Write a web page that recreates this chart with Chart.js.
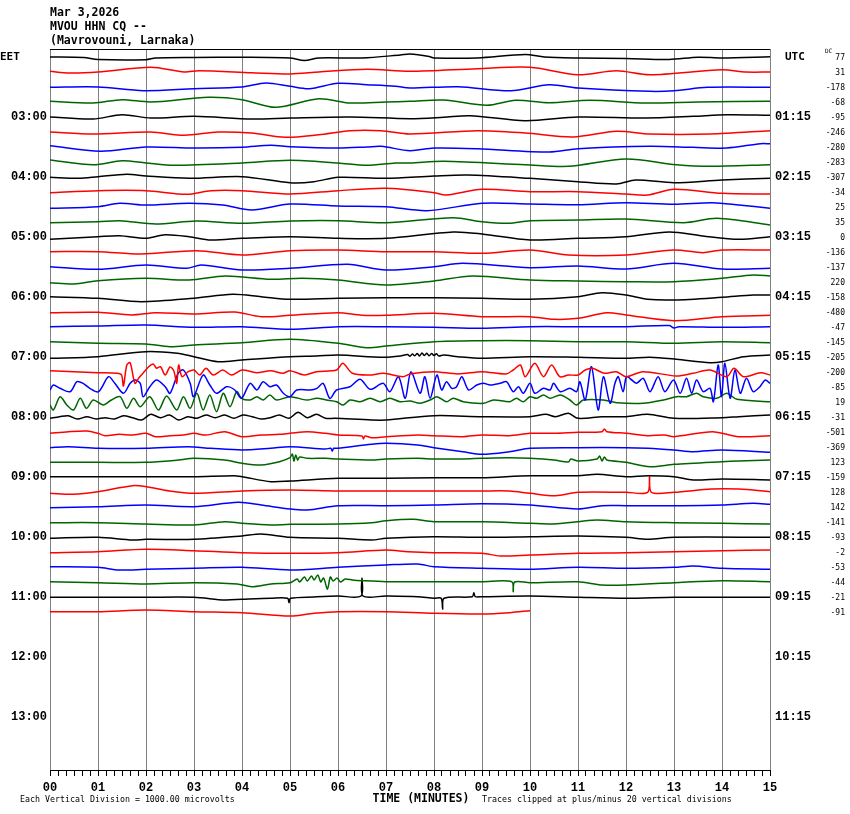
<!DOCTYPE html>
<html>
<head>
<meta charset="utf-8">
<title>MVOU HHN CQ -- helicorder</title>
<script src="https://cdn.jsdelivr.net/npm/chart.js@4"></script>
<style>
  body { margin: 0; background: #fff; }
</style>
</head>
<body>
<canvas id="heli" width="850" height="814"></canvas>
<script>
// row labels, every 4th trace line (one line = 15 minutes)
const eetLabels = ["03:00", "04:00", "05:00", "06:00", "07:00", "08:00", "09:00", "10:00", "11:00", "12:00", "13:00"];
const utcLabels = ["01:15", "02:15", "03:15", "04:15", "05:15", "06:15", "07:15", "08:15", "09:15", "10:15", "11:15"];
const minuteLabels = ["00", "01", "02", "03", "04", "05", "06", "07", "08", "09", "10", "11", "12", "13", "14", "15"];

// DC offset printed at the right of each line
const dcOffsets = [77, 31, -178, -68, -95, -246, -280, -283, -307, -34, 25, 35, 0, -136, -137, 220,
  -158, -480, -47, -145, -205, -200, -85, 19, -31, -501, -369, 123, -159, 128, 142, -141,
  -93, -2, -53, -44, -21, -91];

const traceColors = ["#000000", "#ff0000", "#0000ff", "#006400"];

// each line: [minute, deflection] pairs, deflection in screen pixels (up = +)
const r0200 = [[0,0],[0.7,-0.5],[1,-2.5],[2,-2.7],[2.2,-1],[3,-0.5],[4,-0.3],[5,-1],[5.3,-3.5],[5.6,-1],[6.5,-1],[7.3,2],[7.5,3],[7.9,0.5],[8,-1],[8.9,-1],[9.9,2.5],[10.3,0],[11,-1],[12,-1.5],[12.9,-2.5],[13.5,-0.2],[14,-1],[15,0.3]];
const r0215 = [[0,0.7],[0.4,-1],[1,0],[2.1,4.7],[2.8,0],[3.1,1.3],[4.2,-0.7],[5,-2],[5.6,0],[6.6,2.7],[7.5,0.7],[8.9,3.3],[10,4.7],[11,-2.7],[11.8,1.3],[12.5,-2.7],[14,2.3],[14.5,0],[15,0]];
const r0230 = [[0,-0.3],[1,0],[1.95,-3.7],[3,-1.7],[4,0],[4.5,4],[5,0.7],[5.4,-1.7],[6,3.7],[6.6,2.3],[7.2,0.7],[7.5,-1],[8.5,0.3],[9.6,-3.7],[10.4,2.3],[11,-1],[12.5,-4.3],[13,-3.7],[13.7,-0.3],[15,-0.3]];
const r0245 = [[0,0.7],[0.9,-1],[1.5,2.3],[2.1,0],[3.3,4.7],[4,2.3],[4.7,-5.3],[5.6,3.3],[6.25,-1],[7,0],[7.5,0.7],[8.2,2],[9.1,-3.3],[9.7,1.7],[10.4,-0.7],[11.25,1.7],[12.4,-1],[13.5,0],[15,0.7]];
const r0300 = [[0,0],[0.9,-2],[1.5,2.3],[2.1,-1],[3,0.7],[4.2,-2],[5,-1],[6.25,0],[7.5,-1.7],[8.2,-0.3],[8.75,1.3],[9.9,-3.7],[11,0],[12.4,-1],[13.4,0.7],[14.1,2.3],[15,1.7]];
const r0315 = [[0,0],[0.9,-2],[2.1,0],[2.8,-3.3],[3.5,0],[4.2,-1],[4.9,-5.3],[5.6,-2.7],[6.25,1.3],[6.9,1.3],[7.5,-2],[8.9,1.3],[9.9,-1],[10.9,-5],[11.8,0.7],[12.5,-2],[13.75,-2],[15,1.3]];
const r0330 = [[0,1.3],[1.05,-4.3],[2,0],[3,-1],[4,-0.3],[4.6,1.7],[5,0.3],[6,-1],[6.6,0],[6.9,0.7],[7.5,-3.7],[8,-1],[8.9,-1.7],[10.4,-5],[11,-1.7],[12.5,0.7],[13.4,-0.3],[14.1,-1],[14.8,3.3],[15,3.3]];
const r0345 = [[0,2],[0.9,-2.7],[1.5,1.3],[2,-1],[2.6,-3.3],[4,-1],[5,1.7],[6,-1],[6.6,-3.3],[7.2,-1],[7.5,-1],[8.2,0.7],[9.9,-2.7],[10.8,-4.3],[12,3],[13.05,-2.7],[13.75,-4.3],[15,-2.7]];
const r0400 = [[0,-0.3],[0.6,-1.3],[1,0.3],[1.6,2.7],[2,1],[2.9,-1.3],[4,0.3],[5,-5.7],[5.5,-4.7],[6,-0.3],[7,-1.3],[8,1],[8.7,2],[10,-1.3],[11,-4.7],[11.8,-7],[12.2,-3],[13,-5.7],[14,-3],[15,-1.3]];
const r0415 = [[0,-0.7],[1,1.3],[2,1.3],[2.85,-2.3],[3.35,1.3],[4,1.3],[5,-2],[6,1.3],[7,3.7],[8,-0.7],[8.25,-3],[9,2.7],[10,0.3],[11,0.3],[12,-2],[12.45,-3],[13,2.7],[14,-1.3],[15,-2]];
const r0430 = [[0,-1.3],[1,0.3],[1.45,3.7],[2,2],[2.9,3.7],[3.6,2],[4.2,-3],[5,3],[6,1],[7,0.3],[7.85,-3.7],[9,3.7],[10,3],[11,2.3],[12,4.3],[13,2.7],[13.8,4.3],[14.35,2],[15,-1.3]];
const r0445 = [[0,-0.7],[1,0.3],[1.45,1.3],[2.2,-2],[3.05,1],[4,-1.3],[5,1],[6,1.3],[7,-0.7],[8.4,4.3],[9,0.3],[9.55,-1.3],[10,1.3],[11,2],[12,3],[13.2,-0.7],[13.9,3.7],[15,-3]];
const r0500 = [[0,-2.3],[1,0.3],[1.45,1.3],[2,-1.3],[2.4,2.3],[2.9,0.3],[3.35,-3],[4,-1.3],[5,0.3],[6,-1.3],[7,-1.3],[8.4,5],[9,3],[10,-3],[11,-1.3],[12,0.3],[12.9,5],[13.6,1],[14.35,-2.3],[15,0.3]];
const r0515 = [[0,0.3],[1,0.3],[1.9,-2],[3.05,1.3],[4,-3],[5,1.3],[6,2],[7,0.3],[8,0.3],[9,-1.3],[10,2],[10.8,-3],[12,-3],[13,2],[13.6,-0.7],[14,2],[15,2]];
const r0530 = [[0,0.3],[1,-2.3],[2,2],[2.85,-1.3],[3.15,2],[4,-3],[5,-1.3],[6.2,2.7],[7,-3],[8,0.3],[8.6,3.7],[10,-0.7],[11,1],[12,-2],[13,3.7],[14,-2],[15,-1.3]];
const r0545 = [[0,-0.7],[0.5,-2],[1,1.3],[2,3.7],[2.9,2],[3.65,6],[4.6,2.7],[5.25,3.7],[6,2],[7,-3],[8,1],[8.8,6],[10,2],[11,1],[12,0.3],[13,0.3],[14,3.7],[14.65,7],[15,6]];
const r0600 = [[0,0.3],[1,-1.3],[1.9,-4.7],[3,-1.3],[3.8,2.7],[4.4,0.3],[5,-2.3],[6,-1.3],[7,-0.7],[8,-0.7],[9,-1.3],[10,-2.3],[11,0.3],[11.5,4.3],[12,2],[12.45,-2.3],[13,-3],[14,-0.3],[14.65,2],[15,2]];
const r0615 = [[0,-0.7],[1,-0.3],[1.7,-3],[2.2,-0.7],[3,-2],[3.85,0],[4.4,-4.7],[5,-3.3],[6,-0.7],[6.5,-3.3],[7,-3.3],[8,-1.3],[9,-4.7],[10,-4.7],[10.5,-7.3],[11,-6.3],[11.6,-0.7],[12,-3],[13,-8.7],[14,-4.7],[15,-3.3]];
const r0630 = [[0,0.3],[1,1],[2,2],[3,-0.3],[4,0.3],[5,-2.3],[6,0.3],[7,0.3],[8,-0.3],[9,-1.3],[10,0.3],[11,0.3],[12,0.3],[12.9,1.5],[13,-1],[13.1,0.3],[14,-0.3],[15,0.3]];
const r0645 = [[0,0.3],[1,-1.3],[2,-2],[2.5,-4.7],[3,-3],[4,-0.7],[5,2.7],[6,-1.3],[6.6,-5.7],[7,-4],[8,0.3],[9,1.3],[10,1.3],[11,0.3],[12,0.3],[13,-1.3],[14,0.3],[15,-0.7]];
const r0700 = [[0,-1.3],[1,0.3],[2,5.3],[2.65,3.7],[3,0.3],[3.5,-4.7],[4,-3],[5,0.3],[5.55,1],[6,2],[6.95,-0.3],[7.3,1],[7.45,2.5],[7.5,0.8],[7.55,3],[7.6,1.2],[7.65,3.5],[7.7,1],[7.75,4],[7.8,1.5],[7.85,3.7],[7.9,1.2],[7.95,3.5],[8,1.5],[8.05,3.2],[8.1,1],[8.2,2],[8.5,0.3],[9,-1.3],[10,0.3],[11,-0.3],[12,-1.3],[12.5,-0.3],[13.05,-2.3],[13.75,-5.7],[14,-4.7],[14.45,0.3],[15,2]];
const r0715 = [[0,1.3],[1,-0.7],[1.4,-1.3],[1.49,-3],[1.53,-14],[1.6,7],[1.67,9.3],[1.77,-11.3],[1.85,-6],[1.95,-0.5],[2.05,5],[2.15,8],[2.22,3.7],[2.3,5.3],[2.4,-3],[2.5,5],[2.58,1],[2.64,-11.3],[2.68,7],[2.75,-4.7],[2.88,0.3],[3,2],[3.12,-3],[3.25,3.7],[3.4,-3],[3.6,2],[3.78,-3],[4,2],[4.3,-0.7],[4.6,1.3],[4.85,-1.3],[5,1.3],[5.3,-3],[5.55,0.3],[5.97,2],[6.1,8.7],[6.3,-1.3],[6.65,-3],[6.95,-1.3],[7.35,-4.7],[7.5,-2],[8,0.3],[8.5,-2],[9,0.3],[9.5,-2],[9.65,2],[9.8,7],[9.9,-4.7],[10.1,8.7],[10.28,-4.7],[10.45,7],[10.62,-4.7],[10.8,-3],[11,-3],[11.15,2],[11.3,3.7],[11.55,-1.3],[11.8,0.3],[12,-4.7],[12.35,0.3],[13.05,-4],[13.4,-1.3],[13.75,2],[14.1,-4.7],[14.25,3.7],[14.45,-4.7],[14.8,-0.7],[15,-3]];
const r0730 = [[0,-3],[0.07,2],[0.21,-1.3],[0.42,-4.7],[0.56,5.3],[0.69,3.7],[0.83,-1.3],[1.01,-4.7],[1.22,10.3],[1.35,3.7],[1.53,-6.3],[1.67,3.7],[1.77,7],[1.88,3.7],[1.94,-9.7],[2.08,0.3],[2.22,7],[2.4,0.3],[2.5,-6.3],[2.67,13.7],[2.78,17],[2.92,3.7],[2.99,-9.7],[3.19,12],[3.33,2],[3.47,-6.3],[3.68,0.3],[3.85,-3],[3.99,-11.3],[4.17,3.7],[4.31,-3],[4.44,5.3],[4.58,0.3],[4.72,2],[4.86,-6.3],[5,-9.7],[5.14,-3],[5.42,-3],[5.56,-1.3],[5.69,3.7],[5.83,-11.3],[5.97,-3],[6.25,0.3],[6.46,7.7],[6.67,-2.3],[6.94,3.7],[7.08,-4.7],[7.26,10.3],[7.4,-11.3],[7.52,15.3],[7.71,-6.3],[7.81,10.3],[7.92,-11.3],[8.06,12],[8.16,-3],[8.26,5.3],[8.37,-1.3],[8.47,0.3],[8.58,10.3],[8.72,-3],[8.89,2],[9.03,3.7],[9.17,2],[9.38,3.7],[9.51,5.3],[9.65,-4.7],[9.76,0.3],[9.86,-6.3],[10,3.7],[10.1,-6.3],[10.28,-1.3],[10.42,-3],[10.49,3.7],[10.63,-4.7],[10.83,-1.3],[10.97,-4.7],[11.04,5.3],[11.15,-13],[11.28,20.3],[11.42,-23],[11.53,10.3],[11.67,-16.3],[11.77,3.7],[11.84,10.3],[11.94,-4.7],[12.01,10.3],[12.12,7],[12.22,3.7],[12.36,8.7],[12.5,-4.7],[12.67,10.3],[12.81,-4.7],[12.99,7],[13.13,-6.3],[13.26,8.7],[13.37,-6.3],[13.47,7],[13.61,-4.7],[13.75,-1.3],[13.82,-14.7],[13.92,22],[13.99,-9.7],[14.06,23.7],[14.17,-11.3],[14.27,17],[14.38,-6.3],[14.51,8.7],[14.65,-4.7],[14.79,0.3],[14.9,7],[15,3.7]];
const r0745 = [[0,-3],[0.07,-8],[0.21,5.3],[0.35,-3],[0.49,-8],[0.63,3.7],[0.76,-6.3],[0.9,2],[1.11,-3],[1.28,2],[1.46,5.3],[1.6,-6.3],[1.74,3.7],[1.88,-4.7],[2.08,5.3],[2.26,-8],[2.43,6],[2.64,-8],[2.78,5.3],[2.92,-6.3],[3.06,8.7],[3.19,-8],[3.33,7],[3.47,-9.7],[3.61,8.7],[3.75,-4.7],[3.89,10.3],[3.99,3.7],[4.17,2],[4.31,5.3],[4.44,2],[4.58,7],[4.72,2],[5,5.3],[5.35,2],[5.56,3.7],[5.76,2],[5.97,0.3],[6.11,-3],[6.25,2],[6.46,0.3],[6.67,3.7],[6.88,0.3],[7.08,3.7],[7.29,0.3],[7.5,1],[7.71,-1.3],[7.92,2],[8.06,5.3],[8.26,0.3],[8.4,3.7],[8.61,0.3],[9.03,-1.3],[9.24,2],[9.58,0.3],[9.72,3.7],[9.86,0.3],[10,5.3],[10.14,3.7],[10.28,7],[10.42,3.7],[10.63,7],[10.83,2],[10.97,-3],[11.11,2],[11.53,2],[11.81,-0.7],[12.36,-1.3],[12.78,2],[13.06,5.3],[13.26,5.3],[13.47,8.7],[13.61,5.3],[13.89,3.7],[14.1,8.7],[14.31,2.7],[15,0.3]];
const r0800 = [[0,-1.3],[0.2,0.3],[0.38,1.3],[0.57,-2],[0.77,0.3],[0.96,-2],[1.15,-0.7],[1.34,-2],[1.53,1.3],[1.72,-0.7],[1.91,-3],[2.1,2.7],[2.3,-0.7],[2.49,2],[2.68,-3],[2.87,0.3],[3.06,-1.3],[3.25,2],[3.44,-0.7],[3.64,2],[3.83,-1.3],[4.02,2],[4.21,0.3],[4.4,-2],[4.59,-0.7],[4.78,2],[4.98,-1.3],[5.17,4.7],[5.36,-0.7],[5.55,2.7],[5.74,-1.3],[5.93,-1.3],[6.7,-3],[7,-3],[8,1.3],[9,0.3],[10,0.3],[10.33,2.7],[10.53,0.3],[10.8,3.7],[11,-1.3],[11.5,0.3],[12,0.3],[12.45,2.7],[13,-1.3],[14,-0.7],[14.35,0.3],[15,2]];
const r0815 = [[0,-1.3],[0.38,0.3],[0.77,1],[1,-1.3],[1.15,-3.7],[1.44,-2.3],[1.72,-3],[2,-1.3],[2.2,-4.7],[2.5,-3.7],[2.78,-3],[3,-1.3],[3.25,-3],[3.64,0.3],[4,-4.7],[4.4,-3],[4.78,-2.3],[5,-1.3],[5.36,0.3],[5.74,-1.3],[6,-3],[6.5,-4],[6.53,-7],[6.56,-4],[6.7,-5.7],[7,-4.7],[7.66,-3],[8,-3.7],[8.6,-4.7],[9,-3],[9.57,-3.7],[10,-1.3],[10.5,-1.3],[11,-0.3],[11.5,0.3],[11.55,3],[11.6,0.3],[12,-1.3],[12.45,-3.7],[12.8,-3],[13,-4.7],[13.8,0.3],[14.35,-4.7],[15,-3.7]];
const r0830 = [[0,-0.7],[0.38,0.3],[1,-1.3],[2,-1.3],[2.87,0.3],[3.35,-1.3],[4,-3],[4.6,-1.3],[5,0.3],[5.74,-2],[5.85,-1.3],[5.88,-4],[5.91,-1.3],[6,-1.3],[6.7,2.7],[7,3.7],[7.66,2],[8,-0.7],[8.6,-4.7],[9,-7.3],[9.57,-4.7],[10,-1.3],[11,-0.7],[12,-0.7],[12.45,-1.3],[13,-3],[13.4,-4.7],[14,-3],[15,-5.3]];
const r0845 = [[0,-0.3],[1,-0.3],[2,-0.3],[2.68,2],[3,3.7],[3.64,2],[4,-1.3],[4.4,-3],[4.78,0.3],[5,4.3],[5.05,8],[5.08,1],[5.12,7],[5.16,2],[5.2,5],[5.36,3.7],[5.74,3.7],[6,3],[6.7,2],[7,3],[7.66,3.7],[8,3],[8.6,3],[9,3.7],[9.57,4.3],[10,3.7],[10.5,2],[10.8,0],[10.85,3],[11,1],[11.4,3],[11.45,6],[11.5,1],[11.55,5],[11.6,2],[12,-0.3],[12.5,-4.7],[13,-2.3],[14,0.3],[14.35,1],[15,2]];
const r0900 = [[0,0.3],[1,0.3],[2,0.3],[3,0.3],[3.83,1.3],[4,0.3],[4.6,-4.7],[5,-4],[6,-1.3],[7,-1.3],[8,-0.7],[9,-0.7],[10,1.3],[11,1.3],[11.4,2.7],[12,0.3],[12.45,1.3],[13,0.3],[13.4,-3],[14,-2],[15,-3]];
const r0915 = [[0,-1.3],[0.48,-2.3],[1,0.3],[1.72,6.3],[2,5.3],[2.49,1],[3,-1.3],[4,1],[5,2],[6,1],[7,1],[8,1],[9,1],[9.57,1],[10,-1.3],[10.53,-3.7],[11,-0.3],[12,-0.3],[12.45,-0.3],[12.49,15.3],[12.53,-0.3],[13,-0.3],[13.78,3],[14.35,3],[15,0.3]];
const r0930 = [[0,-0.7],[1,0.3],[2,2],[3,0.3],[3.92,4.7],[4.4,2],[5,-2],[5.36,-3],[6,1.3],[7,1.3],[8,2],[9,3.3],[10,2],[11,-2],[11.5,1.3],[12,1.3],[13,1.3],[14,2],[14.65,3.7],[15,2.7]];
const r0945 = [[0,-0.7],[1,-0.7],[2,-2],[3,-3],[3.64,0.3],[4,-1.3],[4.6,-3],[5,-2.3],[6,-2],[6.7,-0.7],[7,1.3],[7.56,2.7],[8,0.3],[9,0.3],[10,-1.3],[10.5,-2],[11,0.3],[11.4,2],[12,0.3],[13,-0.7],[14,-1.3],[15,-2]];
const r1000 = [[0,-1.3],[1,-0.3],[1.72,-3],[2,-2.3],[3,-2.3],[4,1],[4.4,3],[5,-0.3],[6,-1.3],[6.7,-3],[7,-1.3],[8,0.3],[9,-0.3],[10,0.3],[11,1],[12,-0.3],[12.45,-2.3],[13,-0.3],[15,-0.3]];
const r1015 = [[0,-0.7],[1,0.3],[2,2.7],[3,1.3],[4,-0.7],[5,-1.3],[6,-0.7],[7,2],[7.46,0.3],[8,-0.7],[9,-1.3],[9.38,-4],[10,-3],[11,-1.3],[12,-0.7],[13,0.3],[14,1.3],[15,2]];
const r1030 = [[0,0.3],[1,-0.3],[1.44,-3],[2,-2.3],[3,-1.3],[4,-0.3],[5,-3],[6,-0.3],[7,2],[7.66,3],[8,0.3],[9,-1.3],[10,-2.3],[11,-0.3],[12,-1.3],[13,-0.3],[13.4,1],[14,-1.3],[15,-2.3]];
const r1045 = [[0,0.3],[1,-0.7],[2,-2],[3,-0.7],[3.9,-2],[4.2,-4.7],[4.6,-2],[5,-0.7],[5.15,3],[5.2,0],[5.3,5],[5.36,1],[5.45,6],[5.5,2],[5.58,7],[5.64,0],[5.7,4],[5.78,-7.3],[5.84,5],[5.9,1],[5.98,4],[6.05,0],[6.15,3],[6.3,2],[6.5,1.3],[7,0.3],[8,0.3],[9,0.3],[9.62,0.3],[9.65,-9.7],[9.68,0],[10,-0.7],[11,0.3],[11.5,-3],[12,-3],[13,-0.7],[14,1.3],[15,0.3]];
const r1100 = [[0,-0.3],[1,-0.3],[2,-0.3],[3,-0.3],[3.64,-3],[4,-2.3],[4.6,-1.3],[4.95,-1.3],[4.98,-5.7],[5.01,-1.3],[5.5,0],[6,1],[6.48,1],[6.5,18.7],[6.52,1],[7,1],[7.66,0.3],[8,-1.3],[8.15,-1.3],[8.18,-12.3],[8.21,-1.3],[8.8,0.3],[8.83,4.3],[8.86,0.3],[9,0.3],[10,1],[11,-0.3],[12,-1.3],[13,-0.3],[14,-0.3],[15,-0.3]];
const r1115 = [[0,0.3],[1,0.3],[2,2],[3,0.3],[4,-0.7],[5,-4],[5.5,-1.3],[6,0.3],[7,0.3],[8,-1.3],[9,-2],[9.57,-0.7],[10,1.3]];

const rows = [r0200, r0215, r0230, r0245, r0300, r0315, r0330, r0345, r0400, r0415, r0430, r0445,
  r0500, r0515, r0530, r0545, r0600, r0615, r0630, r0645, r0700, r0715, r0730, r0745,
  r0800, r0815, r0830, r0845, r0900, r0915, r0930, r0945, r1000, r1015, r1030, r1045,
  r1100, r1115];

const ROW_PX = 15; // pixel spacing between lines

const datasets = rows.map((pts, i) => ({
  data: pts.map((p) => ({ x: p[0], y: i - p[1] / ROW_PX })),
  borderColor: traceColors[i % 4],
  borderWidth: 1.5,
  pointRadius: 0,
  tension: 0.3,
  fill: false,
}));

const rowTicks = (scale) => {
  scale.ticks = eetLabels.map((_, k) => ({ value: 4 + 4 * k }));
};

const labelFont = { family: "'Liberation Mono', monospace", size: 12, weight: "bold" };

const extras = {
  id: "extras",
  afterDraw(chart) {
    const c = chart.ctx;
    const a = chart.chartArea;
    c.save();
    // top frame line
    c.strokeStyle = "#000";
    c.lineWidth = 1;
    c.beginPath();
    c.moveTo(a.left, a.top + 0.5);
    c.lineTo(a.right, a.top + 0.5);
    c.stroke();

    c.fillStyle = "#000";
    c.textBaseline = "middle";
    c.textAlign = "left";
    c.font = "bold 11.5px 'DejaVu Sans Mono', monospace";
    c.fillText("Mar 3,2026", 50, 13);
    c.fillText("MVOU HHN CQ --", 50, 27);
    c.fillText("(Mavrovouni, Larnaka)", 50, 41);

    c.font = "bold 11px 'DejaVu Sans Mono', monospace";
    c.fillText("EET", 0, 57);
    c.fillText("UTC", 785, 57);

    // DC offsets column
    const y = chart.scales.y;
    c.font = "6px 'DejaVu Sans Mono', monospace";
    c.fillText("DC", 825, 51);
    c.textAlign = "right";
    c.font = "8px 'DejaVu Sans Mono', monospace";
    dcOffsets.forEach((v, i) => {
      c.fillText(String(v), 845, y.getPixelForValue(i) + 1);
    });

    // footer
    c.textAlign = "left";
    c.font = "8.3px 'DejaVu Sans Mono', monospace";
    c.fillText("Each Vertical Division = 1000.00 microvolts", 20, 800);
    c.fillText("Traces clipped at plus/minus 20 vertical divisions", 482, 800);
    c.textAlign = "center";
    c.font = "bold 11.5px 'DejaVu Sans Mono', monospace";
    c.fillText("TIME (MINUTES)", 421, 799);
    c.restore();
  },
};

new Chart(document.getElementById("heli"), {
  type: "line",
  data: { datasets },
  options: {
    responsive: false,
    animation: false,
    devicePixelRatio: 1,
    layout: { padding: { top: 49, left: 0, right: 0, bottom: 0 } },
    plugins: { legend: { display: false }, tooltip: { enabled: false } },
    scales: {
      x: {
        type: "linear",
        position: "bottom",
        min: 0,
        max: 15,
        afterBuildTicks: (scale) => {
          scale.ticks = Array.from({ length: 91 }, (_, k) => ({ value: k / 6 }));
        },
        afterFit: (scale) => { scale.height = 44; },
        ticks: {
          autoSkip: false,
          maxRotation: 0,
          padding: 5,
          color: "#000",
          font: labelFont,
          callback: (v, idx) => (idx % 6 === 0 ? minuteLabels[idx / 6] : ""),
        },
        grid: {
          color: (ctx) => (ctx.index % 6 === 0 ? "#808080" : "rgba(0,0,0,0)"),
          tickColor: "#000",
          tickLength: 6,
          lineWidth: 1,
        },
        border: { color: "#000" },
      },
      y: {
        type: "linear",
        position: "left",
        reverse: true,
        min: -8 / 15,
        max: 713 / 15,
        afterBuildTicks: rowTicks,
        afterFit: (scale) => { scale.width = 50; },
        ticks: {
          padding: 3,
          color: "#000",
          font: labelFont,
          callback: (v) => eetLabels[(v - 4) / 4],
        },
        grid: { display: false, drawTicks: false },
        border: { display: false },
      },
      y2: {
        type: "linear",
        position: "right",
        reverse: true,
        min: -8 / 15,
        max: 713 / 15,
        afterBuildTicks: rowTicks,
        afterFit: (scale) => { scale.width = 80; },
        ticks: {
          padding: 5,
          color: "#000",
          font: labelFont,
          callback: (v) => utcLabels[(v - 4) / 4],
        },
        grid: { display: false, drawTicks: false },
        border: { display: false },
      },
    },
  },
  plugins: [extras],
});
</script>
</body>
</html>
